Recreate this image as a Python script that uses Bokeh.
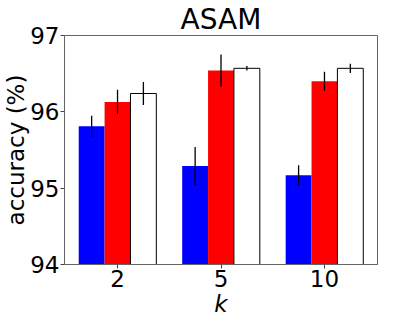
from bokeh.plotting import figure
from bokeh.models import FixedTicker, Range1d
from bokeh.embed import file_html
from bokeh.resources import INLINE

categories = ["2", "5", "10"]
blue_vals = [95.81, 95.29, 95.17]
blue_err = [0.14, 0.25, 0.13]
red_vals = [96.13, 96.54, 96.40]
red_err = [0.16, 0.21, 0.125]
white_vals = [96.24, 96.57, 96.57]
white_err = [0.15, 0.03, 0.06]
y_ticks = [94, 95, 96, 97]

FONT = "DejaVu Sans"
p = figure(width=378, height=319, output_backend="svg", toolbar_location=None,
           x_range=Range1d(-0.5125, 2.5125), y_range=Range1d(94, 97),
           title="ASAM",
           min_border_left=58, min_border_right=1, min_border_top=24, min_border_bottom=50)
p.title.align = "center"
p.title.text_font = FONT
p.title.text_font_size = "28px"
p.title.text_font_style = "normal"
p.title.text_color = "black"
p.title.text_line_height = 0.8
p.title.offset = 0
p.title.standoff = 0

bw = 0.25
idx = list(range(len(categories)))
series = [
    (blue_vals, blue_err, -bw, "#0000ff", None),
    (red_vals, red_err, 0.0, "#ff0000", None),
    (white_vals, white_err, bw, "#ffffff", "black"),
]
for vals, errs, off, col, edge in series:
    xs = [i + off for i in idx]
    p.vbar(x=xs, top=vals, bottom=93.0, width=bw, fill_color=col,
           line_color=edge if edge else col, line_width=1 if edge else 0)
for vals, errs, off, col, edge in series:
    xs = [i + off for i in idx]
    p.segment(x0=xs, x1=xs, y0=[v - e for v, e in zip(vals, errs)],
              y1=[v + e for v, e in zip(vals, errs)], line_color="black", line_width=1.3)

p.xgrid.visible = False
p.ygrid.visible = False
p.outline_line_color = "#666666"
p.outline_line_width = 1

p.xaxis.ticker = FixedTicker(ticks=idx)
p.xaxis.major_label_overrides = {i: c for i, c in zip(idx, categories)}
p.yaxis.ticker = FixedTicker(ticks=y_ticks)
for ax in (p.xaxis, p.yaxis):
    ax.axis_line_color = "#666666"
    ax.major_tick_line_color = "#444444"
    ax.major_tick_out = 4
    ax.major_tick_in = 0
    ax.minor_tick_line_color = None
    ax.major_label_text_font = FONT
    ax.major_label_text_font_size = "23px"
    ax.major_label_text_color = "black"
    ax.axis_label_text_font = FONT
    ax.axis_label_text_font_size = "23px"
    ax.axis_label_text_color = "black"
    ax.axis_label_text_font_style = "normal"
p.xaxis.axis_label = "k"
p.xaxis.axis_label_text_font_style = "italic"
p.xaxis.major_label_standoff = 1
p.xaxis.axis_label_standoff = 1
p.yaxis.axis_label = "accuracy (%)"
p.yaxis.major_label_standoff = 1
p.yaxis.axis_label_standoff = -2

open("out.html", "w").write(file_html(p, INLINE))
